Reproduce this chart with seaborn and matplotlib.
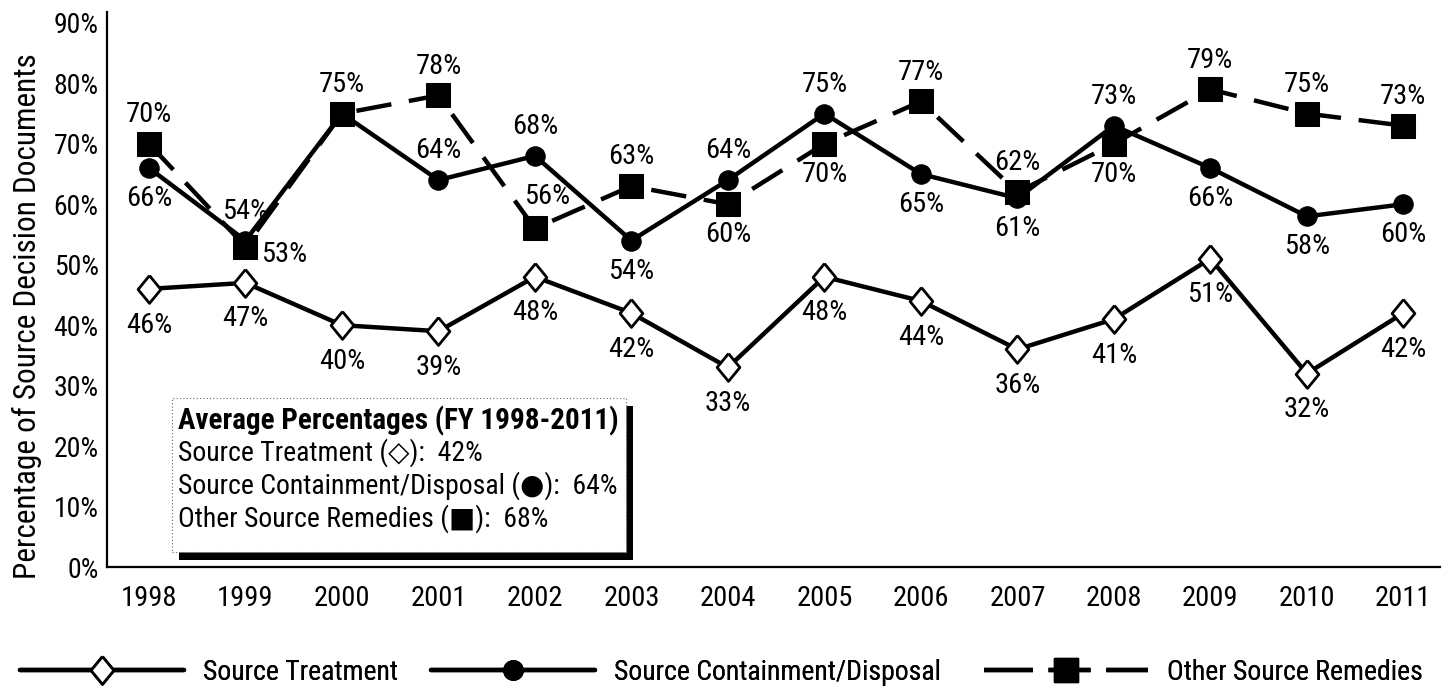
import matplotlib
matplotlib.use("Agg")
import matplotlib.pyplot as plt
from matplotlib import font_manager
from matplotlib.lines import Line2D
from matplotlib.patches import Rectangle
import seaborn as sns
import pandas as pd

# ---- data -------------------------------------------------------------
years = [1998, 1999, 2000, 2001, 2002, 2003, 2004,
         2005, 2006, 2007, 2008, 2009, 2010, 2011]
source_treatment = [46, 47, 40, 39, 48, 42, 33, 48, 44, 36, 41, 51, 32, 42]
containment_disposal = [66, 54, 75, 64, 68, 54, 64, 75, 65, 61, 73, 66, 58, 60]
other_remedies = [70, 53, 75, 78, 56, 63, 60, 70, 77, 62, 70, 79, 75, 73]

y_ticks = [0, 10, 20, 30, 40, 50, 60, 70, 80, 90]
series_names = ["Source Treatment", "Source Containment/Disposal",
                "Other Source Remedies"]
avg_title = "Average Percentages (FY 1998-2011)"
avg_lines = ["Source Treatment (\u25C7):  42%",
             "Source Containment/Disposal (\u25CF):  64%",
             "Other Source Remedies (\u25A0):  68%"]
y_label = "Percentage of Source Decision Documents"

# value-label placement per point: a = above, b = below, r = right, n = none
place_treat = ["b"] * 14
place_cont = ["b", "a", "a", "a", "a", "b", "a", "a", "b", "b", "a", "b", "b", "b"]
place_other = ["a", "r", "n", "a", "a2", "a", "b", "b", "a", "a", "b", "a", "a", "a"]

# ---- style ------------------------------------------------------------
sns.set_theme(style="white")
available = {f.name for f in font_manager.fontManager.ttflist}
main_font = next((f for f in ["Liberation Sans Narrow", "DejaVu Sans Condensed",
                              "Roboto Condensed", "Open Sans", "DejaVu Sans"]
                  if f in available), "DejaVu Sans")
plt.rcParams["font.family"] = [main_font, "DejaVu Sans"]
plt.rcParams["text.color"] = "black"

W, H = 1442, 700
fig = plt.figure(figsize=(W / 100, H / 100), dpi=100)
fig.patch.set_facecolor("white")

def fx(px):
    return px / W

def fy(py):
    return 1 - py / H

ax = fig.add_axes([fx(107), fy(567), fx(1440) - fx(107), fy(12) - fy(567)])
ax.set_facecolor("white")

df = pd.DataFrame({
    "year": years,
    "treat": source_treatment,
    "cont": containment_disposal,
    "other": other_remedies,
})

# slightly tall open diamond
diamond = [(0, 1), (0.82, 0), (0, -1), (-0.82, 0), (0, 1)]

LW = 3.2
sns.lineplot(data=df, x="year", y="other", ax=ax, color="black", lw=LW,
             dashes=(8, 4), marker="s", markersize=17,
             markerfacecolor="black", markeredgecolor="black", zorder=3,
             legend=False)
sns.lineplot(data=df, x="year", y="cont", ax=ax, color="black", lw=LW,
             marker="o", markersize=14, markerfacecolor="black",
             markeredgecolor="black", zorder=4, legend=False)
sns.lineplot(data=df, x="year", y="treat", ax=ax, color="black", lw=LW,
             marker=diamond, markersize=20, markerfacecolor="white",
             markeredgecolor="black", markeredgewidth=2, zorder=5,
             legend=False)

ax.set_xlim(1997.565, 2011.38)
ax.set_ylim(0, 91.8)
ax.set_xticks(years)
ax.set_xticklabels([str(y) for y in years])
ax.set_yticks(y_ticks)
ax.set_yticklabels([f"{v}%" for v in y_ticks])
ax.tick_params(axis="x", direction="in", length=8, width=1.6, pad=13,
               labelsize=20.5, colors="black")
ax.tick_params(axis="y", length=0, pad=6, labelsize=20, colors="black")
ax.set_xlabel("")
ax.set_ylabel("")
for side in ["top", "right"]:
    ax.spines[side].set_visible(False)
for side in ["left", "bottom"]:
    ax.spines[side].set_color("black")
    ax.spines[side].set_linewidth(1.6)
ax.grid(False)

fig.text(fx(27), fy(316), y_label, rotation=90, ha="center", va="center",
         fontsize=22.5)

# ---- value labels -----------------------------------------------------
offsets = {"a": (0, 21), "a2": (9, 23), "b": (0, -22), "r": (28, -6)}

def label_series(values, places, below_offset=None):
    for x, v, p in zip(years, values, places):
        if p == "n":
            continue
        dx, dy = offsets[p]
        if p == "b" and below_offset is not None:
            dy = below_offset
        ax.annotate(f"{v}%", (x, v), xytext=(dx, dy), textcoords="offset points",
                    ha="center", va="center", fontsize=20.5, zorder=6)

label_series(source_treatment, place_treat, below_offset=-26)
label_series(containment_disposal, place_cont)
label_series(other_remedies, place_other)

# ---- averages box with drop shadow -----------------------------------
bx0, by0, bx1, by1 = 172, 398, 626, 552
shadow = Rectangle((fx(bx0 + 7), fy(by1 + 8)), fx(bx1 - bx0), fy(by0) - fy(by1),
                   transform=fig.transFigure, facecolor="black",
                   edgecolor="none", zorder=7)
box = Rectangle((fx(bx0), fy(by1)), fx(bx1 - bx0), fy(by0) - fy(by1),
                transform=fig.transFigure, facecolor="white",
                edgecolor="#666666", lw=0.8, linestyle=(0, (1, 2)), zorder=8)
fig.add_artist(shadow)
fig.add_artist(box)
fig.text(fx(178), fy(421), avg_title, fontsize=21, fontweight="bold",
         ha="left", va="center", zorder=9)
for i, line in enumerate(avg_lines):
    fig.text(fx(178), fy(453 + 33 * i), line, fontsize=20, ha="left",
             va="center", zorder=9)

# ---- legend along the bottom -----------------------------------------
handles = [
    Line2D([], [], color="black", lw=LW, marker=diamond, markersize=20,
           markerfacecolor="white", markeredgecolor="black",
           markeredgewidth=2),
    Line2D([], [], color="black", lw=LW, marker="o", markersize=14,
           markerfacecolor="black"),
    Line2D([], [], color="black", lw=LW, dashes=(11, 3.5, 9.5, 3.5, 11, 3),
           marker="s", markersize=17, markerfacecolor="black"),
]
legend_x = [20, 431, 984]
for h, name, lx in zip(handles, series_names, legend_x):
    leg = fig.legend([h], [name], loc="center left",
                     bbox_to_anchor=(fx(lx), fy(672)), frameon=False,
                     fontsize=20, handlelength=5.9, handletextpad=0.7,
                     borderpad=0, borderaxespad=0, numpoints=1)
    fig.add_artist(leg)

fig.savefig("out.png", dpi=100, facecolor="white")
